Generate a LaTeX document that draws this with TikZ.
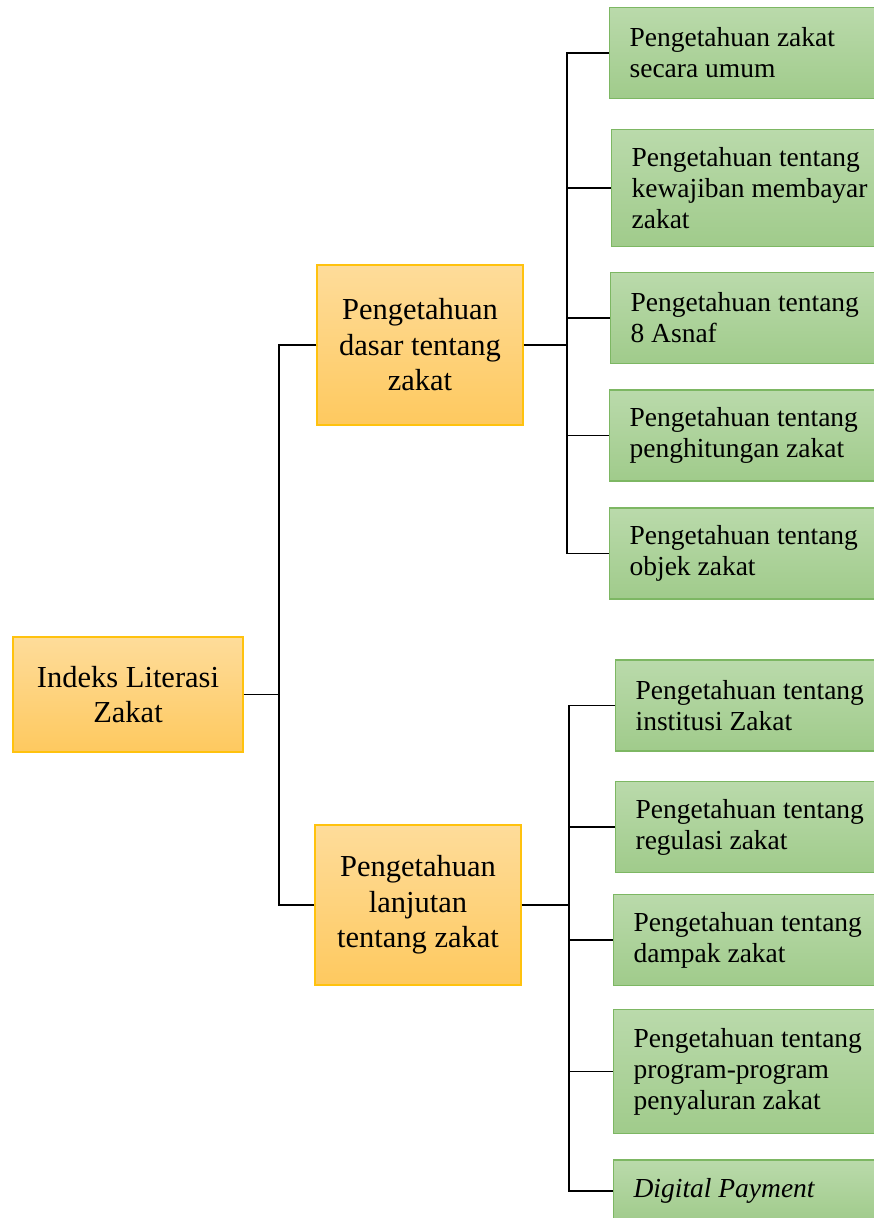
\documentclass[tikz,border=0pt]{standalone}
\usepackage{fontspec}
\setmainfont{Liberation Serif}
\usetikzlibrary{positioning}
\definecolor{orangetop}{HTML}{FEDC9A}
\definecolor{orangebot}{HTML}{FEC95F}
\definecolor{orangeline}{HTML}{FFC20E}
\definecolor{greentop}{HTML}{BADAAB}
\definecolor{greenbot}{HTML}{A0CB8B}
\definecolor{greenline}{HTML}{7DB763}
\tikzset{
	x=1pt, y=-1pt,
	topic/.style={draw=orangeline, line width=1.2pt, top color=orangetop, bottom color=orangebot,
		align=center, inner sep=0pt, font=\fontsize{30.5}{35.5}\selectfont},
	item/.style={draw=greenline, line width=1.2pt, top color=greentop, bottom color=greenbot,
		align=flush left, text width=250pt, inner xsep=20pt, anchor=west, minimum height=91pt,
		font=\fontsize{27.5}{31}\selectfont},
	link/.style={line width=1.6pt},
}
\begin{document}
\begin{tikzpicture}
		\useasboundingbox (0,0) rectangle (874,1218);
		\node[topic, minimum width=230pt, minimum height=115pt] (root) at (128,694.5) {Indeks Literasi\\Zakat};
		\node[topic, minimum width=206pt, minimum height=160pt] (basic) at (420,345) {Pengetahuan\\dasar tentang\\zakat};
		\node[topic, minimum width=206pt, minimum height=160pt] (advanced) at (418,905) {Pengetahuan\\lanjutan\\tentang zakat};
		%
		\node[item] (b1) at (609,53) {Pengetahuan zakat\\secara umum};
		\node[item, minimum height=117pt] (b2) at (611,188) {Pengetahuan tentang\\kewajiban membayar\\zakat};
		\node[item] (b3) at (610,318) {Pengetahuan tentang\\8 Asnaf};
		\node[item] (b4) at (609,435.5) {Pengetahuan tentang\\penghitungan zakat};
		\node[item] (b5) at (609,553.5) {Pengetahuan tentang\\objek zakat};
		%
		\node[item] (a1) at (615,705.5) {Pengetahuan tentang\\institusi Zakat};
		\node[item] (a2) at (615,827) {Pengetahuan tentang\\regulasi zakat};
		\node[item] (a3) at (613,940) {Pengetahuan tentang\\dampak zakat};
		\node[item, minimum height=124pt] (a4) at (613,1071.5) {Pengetahuan tentang\\program-program\\penyaluran zakat};
		\node[item, minimum height=62pt] (a5) at (613,1191) {\textit{Digital Payment}};
		%
		\coordinate (j0) at (279,694.5);
		\coordinate (j1) at (567,345);
		\coordinate (j2) at (569,905);
		%
		\draw[link] (root.east) -- (j0);
		\draw[link] (basic.west) -| (j0) |- (advanced.west);
		\draw[link] (basic.east) -- (j1);
		\draw[link] (advanced.east) -- (j2);
		\foreach \i in {1,...,5} {
			\draw[link] (j1) |- (b\i.west);
			\draw[link] (j2) |- (a\i.west);
		}
\end{tikzpicture}
\end{document}
